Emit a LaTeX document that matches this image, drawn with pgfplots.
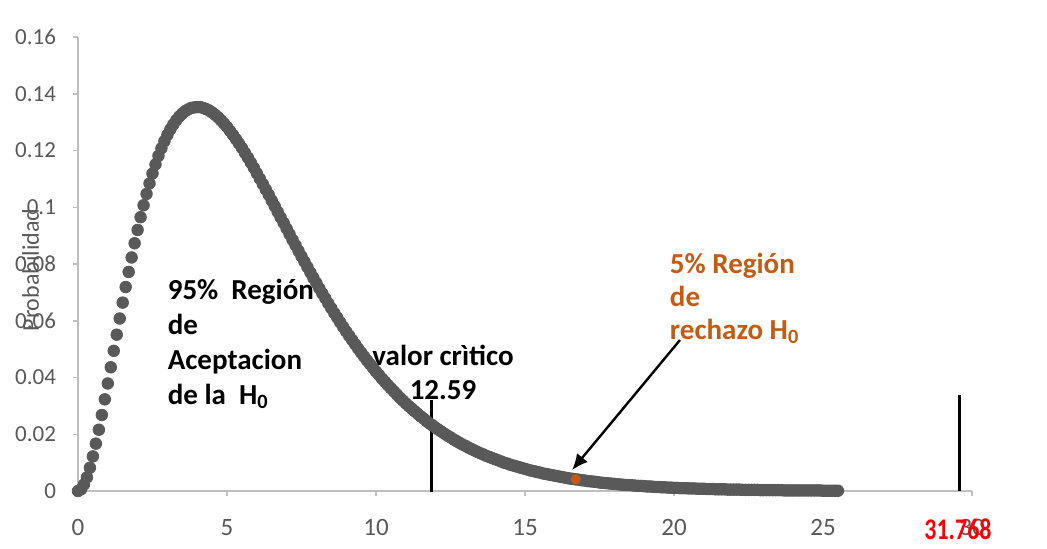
\documentclass[border=0pt]{standalone}
\usepackage{fontspec}
\setmainfont{Carlito}
\usepackage{pgfplots}
\pgfplotsset{compat=1.18}
\usepackage{pgfplotstable}
\usetikzlibrary{arrows.meta}

\definecolor{dotgray}{HTML}{595959}
\definecolor{axisgray}{HTML}{BFBFBF}
\definecolor{rejorange}{HTML}{C55A11}

% chi-square density, 6 degrees of freedom, read every 0.1
\pgfplotstableread{
x y
0.0 0.0000
0.1 0.0006
0.2 0.0023
0.3 0.0048
0.4 0.0082
0.5 0.0122
0.6 0.0167
0.7 0.0216
0.8 0.0268
0.9 0.0323
1.0 0.0379
1.1 0.0436
1.2 0.0494
1.3 0.0551
1.4 0.0608
1.5 0.0664
1.6 0.0719
1.7 0.0772
1.8 0.0823
1.9 0.0873
2.0 0.0920
2.1 0.0965
2.2 0.1007
2.3 0.1047
2.4 0.1084
2.5 0.1119
2.6 0.1151
2.7 0.1181
2.8 0.1208
2.9 0.1233
3.0 0.1255
3.1 0.1275
3.2 0.1292
3.3 0.1307
3.4 0.1320
3.5 0.1330
3.6 0.1339
3.7 0.1345
3.8 0.1350
3.9 0.1352
4.0 0.1353
4.1 0.1353
4.2 0.1350
4.3 0.1346
4.4 0.1341
4.5 0.1334
4.6 0.1326
4.7 0.1317
4.8 0.1306
4.9 0.1295
5.0 0.1283
5.1 0.1269
5.2 0.1255
5.3 0.1240
5.4 0.1225
5.5 0.1209
5.6 0.1192
5.7 0.1175
5.8 0.1157
5.9 0.1139
6.0 0.1120
6.1 0.1101
6.2 0.1082
6.3 0.1063
6.4 0.1044
6.5 0.1024
6.6 0.1004
6.7 0.0984
6.8 0.0964
6.9 0.0945
7.0 0.0925
7.1 0.0905
7.2 0.0885
7.3 0.0866
7.4 0.0846
7.5 0.0827
7.6 0.0808
7.7 0.0789
7.8 0.0770
7.9 0.0751
8.0 0.0733
8.1 0.0714
8.2 0.0696
8.3 0.0679
8.4 0.0661
8.5 0.0644
8.6 0.0627
8.7 0.0611
8.8 0.0594
8.9 0.0578
9.0 0.0562
9.1 0.0547
9.2 0.0532
9.3 0.0517
9.4 0.0502
9.5 0.0488
9.6 0.0474
9.7 0.0460
9.8 0.0447
9.9 0.0434
10.0 0.0421
10.1 0.0409
10.2 0.0396
10.3 0.0385
10.4 0.0373
10.5 0.0362
10.6 0.0351
10.7 0.0340
10.8 0.0329
10.9 0.0319
11.0 0.0309
11.1 0.0299
11.2 0.0290
11.3 0.0281
11.4 0.0272
11.5 0.0263
11.6 0.0255
11.7 0.0246
11.8 0.0238
11.9 0.0231
12.0 0.0223
12.1 0.0216
12.2 0.0209
12.3 0.0202
12.4 0.0195
12.5 0.0189
12.6 0.0182
12.7 0.0176
12.8 0.0170
12.9 0.0164
13.0 0.0159
13.1 0.0153
13.2 0.0148
13.3 0.0143
13.4 0.0138
13.5 0.0133
13.6 0.0129
13.7 0.0124
13.8 0.0120
13.9 0.0116
14.0 0.0112
14.1 0.0108
14.2 0.0104
14.3 0.0100
14.4 0.0097
14.5 0.0093
14.6 0.0090
14.7 0.0087
14.8 0.0084
14.9 0.0081
15.0 0.0078
15.1 0.0075
15.2 0.0072
15.3 0.0070
15.4 0.0067
15.5 0.0065
15.6 0.0062
15.7 0.0060
15.8 0.0058
15.9 0.0056
16.0 0.0054
16.1 0.0052
16.2 0.0050
16.3 0.0048
16.4 0.0046
16.5 0.0044
16.6 0.0043
16.7 0.0041
16.8 0.0040
16.9 0.0038
17.0 0.0037
17.1 0.0035
17.2 0.0034
17.3 0.0033
17.4 0.0032
17.5 0.0030
17.6 0.0029
17.7 0.0028
17.8 0.0027
17.9 0.0026
18.0 0.0025
18.1 0.0024
18.2 0.0023
18.3 0.0022
18.4 0.0021
18.5 0.0021
18.6 0.0020
18.7 0.0019
18.8 0.0018
18.9 0.0018
19.0 0.0017
19.1 0.0016
19.2 0.0016
19.3 0.0015
19.4 0.0014
19.5 0.0014
19.6 0.0013
19.7 0.0013
19.8 0.0012
19.9 0.0012
20.0 0.0011
20.1 0.0011
20.2 0.0010
20.3 0.0010
20.4 0.0010
20.5 0.0009
20.6 0.0009
20.7 0.0009
20.8 0.0008
20.9 0.0008
21.0 0.0008
21.1 0.0007
21.2 0.0007
21.3 0.0007
21.4 0.0006
21.5 0.0006
21.6 0.0006
21.7 0.0006
21.8 0.0005
21.9 0.0005
22.0 0.0005
22.1 0.0005
22.2 0.0005
22.3 0.0004
22.4 0.0004
22.5 0.0004
22.6 0.0004
22.7 0.0004
22.8 0.0004
22.9 0.0003
23.0 0.0003
23.1 0.0003
23.2 0.0003
23.3 0.0003
23.4 0.0003
23.5 0.0003
23.6 0.0003
23.7 0.0002
23.8 0.0002
23.9 0.0002
24.0 0.0002
24.1 0.0002
24.2 0.0002
24.3 0.0002
24.4 0.0002
24.5 0.0002
24.6 0.0002
24.7 0.0002
24.8 0.0002
24.9 0.0002
25.0 0.0001
25.1 0.0001
25.2 0.0001
25.3 0.0001
25.4 0.0001
25.5 0.0001
}\chisq

\begin{document}
\begin{tikzpicture}
\useasboundingbox (-39pt,-28.5pt) rectangle (484.5pt,245.5pt);
\begin{axis}[
    scale only axis,
    width=447pt, height=227pt,
    xmin=0, xmax=30,
    ymin=0, ymax=0.16,
    axis x line*=bottom,
    axis y line*=left,
    axis line style={axisgray, line width=0.75pt, -},
    tick align=outside,
    major tick length=2.5pt,
    tick style={axisgray, line width=0.75pt},
    xtick={0,5,10,15,20,25,30},
    xticklabels={0,5,10,15,20,25,30},
    ytick={0,0.02,0.04,0.06,0.08,0.1,0.12,0.14,0.16},
    yticklabels={0,0.02,0.04,0.06,0.08,0.1,0.12,0.14,0.16},
    yticklabel style={font=\fontsize{11.5}{13}\selectfont, text=dotgray, xshift=-5pt},
    xticklabel style={font=\fontsize{12.5}{14}\selectfont, text=dotgray, yshift=-8pt},
    ylabel={Probabilidad},
    ylabel style={at={(axis description cs:-0.053,0.487)}, anchor=center,
        font=\fontsize{12}{14}\selectfont, text=dotgray},
    clip=false,
]
\addplot[only marks, mark=*, mark size=2.9pt, draw=dotgray, fill=dotgray] table {\chisq};
\addplot[only marks, mark=*, mark size=2.3pt, draw=rejorange, fill=rejorange] coordinates {(16.7,0.0041)};

\addplot[black, line width=1.5pt] coordinates {(11.85,-0.0004) (11.85,0.032)};
\addplot[black, line width=1.5pt] coordinates {(29.57,0) (29.57,0.0338)};
\addplot[black, line width=1.2pt, -{Latex[length=8pt,width=7pt]}] coordinates {(20.2,0.0532) (16.58,0.0074)};

\node[anchor=north west, align=left, inner sep=0pt,
      font=\bfseries\fontsize{14.5}{17.5}\selectfont]
      at (axis cs:3.0,0.0748) {95\%\ \ Región\\de\\Aceptacion\\de la\ \ H\textsubscript{0}};
\node[anchor=north, align=center, inner sep=0pt,
      font=\bfseries\fontsize{14.5}{17}\selectfont]
      at (axis cs:12.25,0.0515) {valor crìtico\\12.59};
\node[anchor=north west, align=left, inner sep=0pt, text=rejorange,
      font=\bfseries\fontsize{14.5}{16.5}\selectfont]
      at (axis cs:19.85,0.0840) {5\% Región\\de\\rechazo H\textsubscript{0}};
\node[text=red, inner sep=0pt, font=\bfseries\fontsize{15}{17}\selectfont]
      at (axis cs:29.53,-0.0134) {\scalebox{0.8}[1]{31.768}};
\end{axis}
\end{tikzpicture}
\end{document}
